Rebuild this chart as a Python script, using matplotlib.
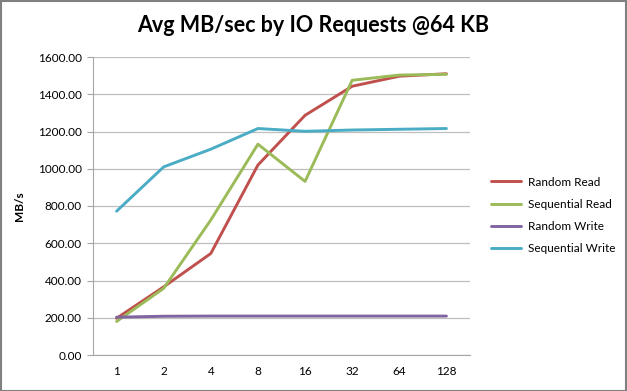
import matplotlib
matplotlib.use("Agg")
import matplotlib.pyplot as plt
from matplotlib.patches import Rectangle

categories = ["1", "2", "4", "8", "16", "32", "64", "128"]
random_read = [197, 366, 545, 1020, 1287, 1443, 1497, 1510]
sequential_read = [180, 358, 725, 1132, 932, 1475, 1503, 1507]
random_write = [203, 208, 209, 209, 209, 209, 209, 209]
sequential_write = [772, 1010, 1105, 1216, 1201, 1208, 1212, 1216]
yticks = [0, 200, 400, 600, 800, 1000, 1200, 1400, 1600]

plt.rcParams['font.family'] = ['Lato', 'DejaVu Sans']

fig = plt.figure(figsize=(6.27, 3.91), dpi=100)
W, H = 627, 391
ax = fig.add_axes([93 / W, 1 - 355 / H, (470 - 93) / W, (355 - 57) / H])

x = list(range(len(categories)))
series = [
    ("Random Read", random_read, "#C0504D"),
    ("Sequential Read", sequential_read, "#9BBB59"),
    ("Random Write", random_write, "#8064A2"),
    ("Sequential Write", sequential_write, "#4BACC6"),
]
for name, vals, col in series:
    ax.plot(x, vals, color=col, lw=2.1, label=name, solid_capstyle='round')

ax.set_xlim(-0.5, len(categories) - 0.5)
ax.set_ylim(0, 1600)
ax.set_yticks(yticks)
ax.set_yticklabels([f"{v:.2f}" for v in yticks], fontsize=8.5)
ax.set_xticks(x)
ax.set_xticklabels(categories, fontsize=8.5)
ax.grid(axis='y', color='#BFBFBF', lw=0.9)
ax.set_axisbelow(True)
for s in ['top', 'right']:
    ax.spines[s].set_visible(False)
for s in ['left', 'bottom']:
    ax.spines[s].set_color('#A6A6A6')
ax.tick_params(axis='y', length=4, color='#A6A6A6', pad=4)
ax.tick_params(axis='x', length=0, pad=8)
ax.set_ylabel("MB/s", fontsize=8.5, fontweight='bold', labelpad=9)

fig.text(0.5, 1 - 26 / H, "Avg MB/sec by IO Requests @64 KB", ha='center', va='center',
         fontsize=15.5, fontweight='bold')

leg = ax.legend(loc='upper left', bbox_to_anchor=(480 / W, 1 - 166 / H),
                bbox_transform=fig.transFigure, frameon=False, fontsize=8.5,
                handlelength=2.6, labelspacing=0.95, handletextpad=0.6)

fig.patches.append(Rectangle((0.5 / W, 0.5 / H), 1 - 1.5 / W, 1 - 1.5 / H,
                             transform=fig.transFigure, fill=False,
                             edgecolor='#808080', lw=1.5))
fig.savefig("out.png", dpi=100)
